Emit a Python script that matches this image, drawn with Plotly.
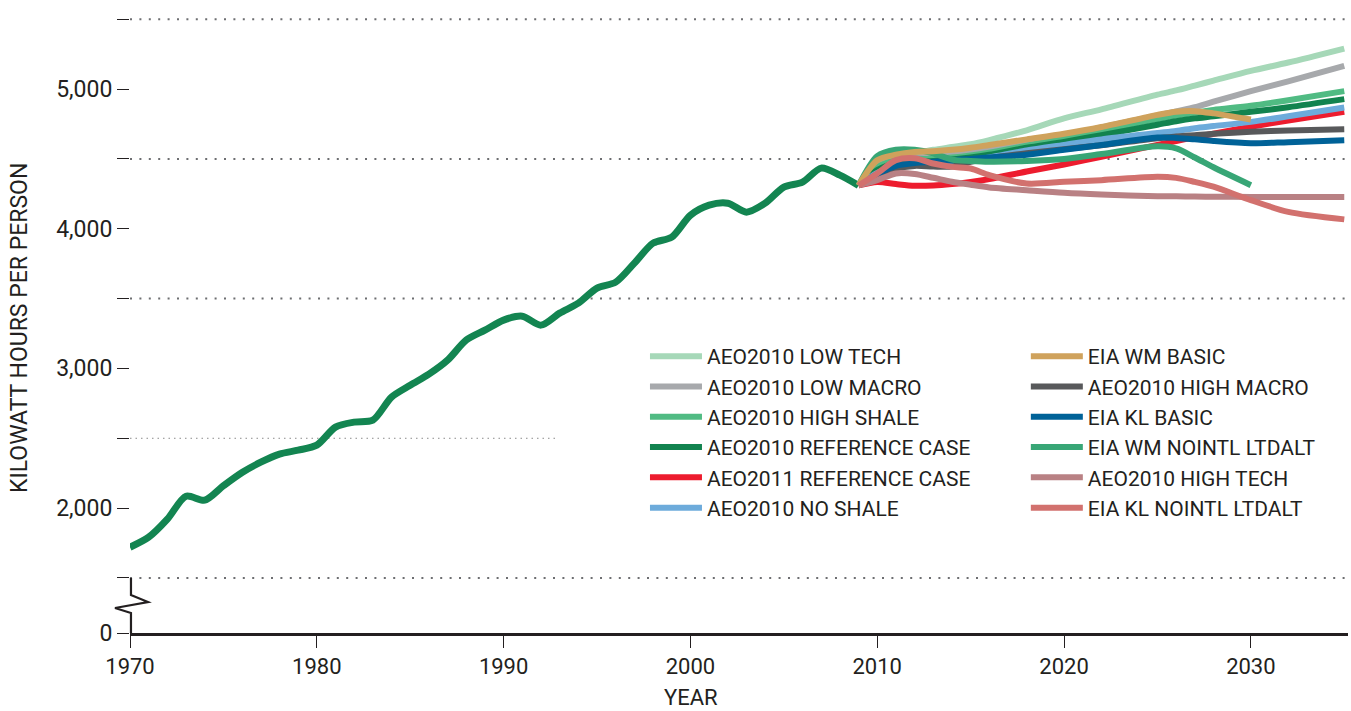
import plotly.graph_objects as go

# ---- historical electricity use per person (kWh) ----
HIST_YEARS = list(range(1970, 2010))
HIST_KWH = [1720, 1792, 1921, 2085, 2057, 2160, 2255, 2329, 2387, 2415,
            2451, 2580, 2616, 2630, 2795, 2880, 2959, 3059, 3203, 3274,
            3346, 3374, 3310, 3396, 3467, 3575, 3618, 3754, 3897, 3940,
            4097, 4169, 4183, 4119, 4183, 4298, 4334, 4434, 4384, 4310]

# ---- projection scenarios ----
PROJ_YEARS = [2009, 2010, 2011, 2012, 2013, 2014, 2015, 2016, 2018, 2020,
              2022, 2025, 2026, 2027, 2028, 2030, 2032, 2035]

AEO2010_LOW_TECH = [4310, 4470, 4525, 4540, 4565, 4585, 4605, 4635, 4705, 4790,
                    4855, 4960, 4990, 5025, 5060, 5130, 5190, 5290]
AEO2010_LOW_MACRO = [4310, 4450, 4500, 4510, 4515, 4530, 4545, 4565, 4615, 4665,
                     4725, 4810, 4840, 4870, 4910, 4985, 5055, 5166]
AEO2010_HIGH_SHALE = [4310, 4440, 4490, 4500, 4500, 4510, 4525, 4545, 4595, 4650,
                      4705, 4785, 4810, 4830, 4850, 4880, 4920, 4985]
AEO2010_REFERENCE = [4310, 4420, 4470, 4480, 4485, 4495, 4510, 4530, 4580, 4622,
                     4670, 4745, 4770, 4790, 4805, 4837, 4870, 4928]
AEO2011_REFERENCE = [4310, 4335, 4320, 4308, 4310, 4320, 4335, 4355, 4410, 4460,
                     4515, 4600, 4628, 4655, 4680, 4730, 4775, 4837]
AEO2010_NO_SHALE = [4310, 4400, 4450, 4460, 4465, 4475, 4490, 4510, 4560, 4600,
                    4640, 4685, 4700, 4720, 4735, 4765, 4805, 4868]
EIA_WM_BASIC = [4310, 4490, 4530, 4550, 4555, 4565, 4580, 4600, 4640, 4680,
                4728, 4815, 4838, 4842, 4826, 4782, None, None]
AEO2010_HIGH_MACRO = [4310, 4372, 4430, 4450, 4445, 4445, 4480, 4505, 4540, 4570,
                      4598, 4648, 4660, 4670, 4680, 4694, 4703, 4713]
EIA_KL_BASIC = [4310, 4390, 4450, 4470, 4480, 4490, 4500, 4510, 4530, 4565,
                4600, 4653, 4650, 4640, 4628, 4612, 4620, 4634]
EIA_WM_NOINTL_LTDALT = [4310, 4520, 4565, 4565, 4540, 4495, 4485, 4480, 4485, 4500,
                        4535, 4590, 4575, 4510, 4440, 4312, None, None]
AEO2010_HIGH_TECH = [4310, 4348, 4396, 4392, 4365, 4336, 4315, 4296, 4276, 4257,
                     4245, 4233, 4232, 4230, 4229, 4228, 4228, 4228]
EIA_KL_NOINTL_LTDALT = [4310, 4396, 4491, 4505, 4467, 4443, 4431, 4384, 4324, 4336,
                        4348, 4372, 4364, 4335, 4301, 4205, 4121, 4067]

# axis ticks; the "0" label sits on a compressed (broken) stretch of the axis
ZERO_POS = 1106
Y_TICKS = [ZERO_POS, 1500, 2000, 2500, 3000, 3500, 4000, 4500, 5000, 5500]
Y_TICK_TEXT = ["0", "", "2,000", "", "3,000", "", "4,000", "", "5,000", ""]
X_TICKS = [1970, 1980, 1990, 2000, 2010, 2020, 2030]
FULL_GRID = [1500, 3500, 4500, 5500]
SHORT_GRID = 2500

TEXT = "#231f20"
FONT = "Roboto"

# (name, values, colour, legend column, rank within column), in drawing order
series = [
    ("AEO2010 LOW TECH", AEO2010_LOW_TECH, "#a6d8b8", "legend", 1),
    ("AEO2010 LOW MACRO", AEO2010_LOW_MACRO, "#a7a9ac", "legend", 2),
    ("AEO2010 HIGH SHALE", AEO2010_HIGH_SHALE, "#50bb83", "legend", 3),
    ("AEO2010 REFERENCE CASE", AEO2010_REFERENCE, "#12834f", "legend", 4),
    ("AEO2011 REFERENCE CASE", AEO2011_REFERENCE, "#ed1c2e", "legend", 5),
    ("AEO2010 NO SHALE", AEO2010_NO_SHALE, "#6dabdb", "legend", 6),
    ("AEO2010 HIGH MACRO", AEO2010_HIGH_MACRO, "#58595b", "legend2", 2),
    ("EIA KL BASIC", EIA_KL_BASIC, "#006298", "legend2", 3),
    ("AEO2010 HIGH TECH", AEO2010_HIGH_TECH, "#b98184", "legend2", 5),
    ("EIA WM NOINTL LTDALT", EIA_WM_NOINTL_LTDALT, "#38a676", "legend2", 4),
    ("EIA WM BASIC", EIA_WM_BASIC, "#cfa25c", "legend2", 1),
    ("EIA KL NOINTL LTDALT", EIA_KL_NOINTL_LTDALT, "#d2716e", "legend2", 6),
]

fig = go.Figure()

fig.add_trace(go.Scatter(
    x=HIST_YEARS, y=HIST_KWH, mode="lines", showlegend=False,
    line=dict(color="#138551", width=7, shape="spline", smoothing=0.8),
    hoverinfo="skip",
))

for name, vals, color, leg, rank in series:
    fig.add_trace(go.Scatter(
        x=PROJ_YEARS, y=vals, name=name, mode="lines",
        line=dict(color=color, width=6, shape="spline", smoothing=0.8),
        legend=leg, legendrank=rank,
    ))

shapes = []
for g in FULL_GRID:
    shapes.append(dict(type="line", xref="paper", yref="y", x0=0, x1=1, y0=g, y1=g,
                       line=dict(color="#6d6e71", width=2, dash="2px,7.4px"),
                       layer="below"))
shapes.append(dict(type="line", xref="x", yref="y", x0=1970, x1=1992.8,
                   y0=SHORT_GRID, y1=SHORT_GRID,
                   line=dict(color="#8a8a8a", width=1, dash="1.5px,4px"),
                   layer="below"))
# axis break marker between the 0 baseline and the 1,500 level
shapes.append(dict(
    type="path", xref="paper", yref="y",
    path="M 0.0008 1500 L 0.0008 1378 L 0.0148 1328 L -0.0123 1285 "
         "L 0.0008 1249 L 0.0008 1106",
    line=dict(color=TEXT, width=2.2), layer="above"))

legend_style = dict(xanchor="left", yanchor="top",
                    font=dict(size=21, family=FONT, color=TEXT),
                    itemwidth=52, bgcolor="rgba(0,0,0,0)", tracegroupgap=0)

fig.update_layout(
    width=1351, height=711,
    margin=dict(l=130, r=3, t=10, b=78),
    paper_bgcolor="white", plot_bgcolor="white",
    font=dict(family=FONT, color=TEXT, size=22),
    shapes=shapes,
    showlegend=True,
    legend=dict(x=0.4228, y=0.4767, **legend_style),
    legend2=dict(x=0.7355, y=0.4767, **legend_style),
    xaxis=dict(range=[1970, 2035.2], tickvals=X_TICKS, ticks="outside",
               ticklen=12, tickwidth=1, tickcolor=TEXT, showgrid=False,
               zeroline=False, showline=True, linecolor=TEXT, linewidth=2.5,
               tickfont=dict(size=22, family=FONT, color=TEXT)),
    yaxis=dict(range=[ZERO_POS, 5566], tickvals=Y_TICKS, ticktext=Y_TICK_TEXT,
               ticks="outside", ticklen=12, tickwidth=1.2, tickcolor=TEXT,
               showgrid=False, zeroline=False, showline=False,
               ticklabelstandoff=0,
               tickfont=dict(size=23, family=FONT, color=TEXT)),
    annotations=[
        dict(text="YEAR", xref="paper", yref="paper", x=0.461, y=-0.103,
             xanchor="center", yanchor="middle", showarrow=False,
             font=dict(size=22, family=FONT, color=TEXT)),
        dict(text="KILOWATT HOURS PER PERSON", xref="paper", yref="paper",
             x=-0.0903, y=0.4896, textangle=-90, xanchor="center",
             yanchor="middle", showarrow=False,
             font=dict(size=23, family=FONT, color=TEXT)),
    ],
)

fig.write_html("out.html")
